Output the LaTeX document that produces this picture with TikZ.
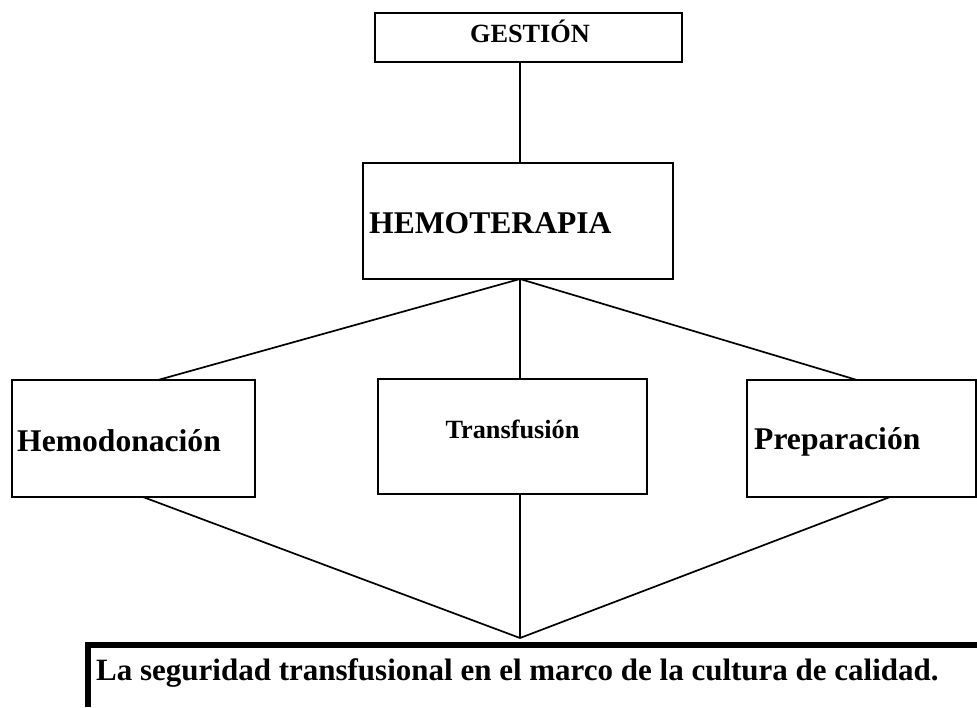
\documentclass[tikz,border=0pt]{standalone}
\usepackage{fontspec}
\setmainfont{Liberation Serif}
\begin{document}
\begin{tikzpicture}[x=1pt,y=-1pt,
  box/.style={draw=black, line width=2pt, rectangle, inner sep=0pt},
  conn/.style={draw=black, line width=1.7pt},
  big/.style={font=\bfseries\fontsize{31.6}{36}\selectfont, inner sep=0pt},
  mid/.style={font=\bfseries\fontsize{26.3}{30}\selectfont, inner sep=0pt}]
\useasboundingbox (0,0) rectangle (977,707);
% boxes
\node[box, minimum width=307pt, minimum height=49pt] (g) at (528.5,37.5) {};
\node[box, minimum width=310pt, minimum height=116pt] (h) at (518,221) {};
\node[box, minimum width=243pt, minimum height=117pt] (hd) at (133.5,438.5) {};
\node[box, minimum width=269pt, minimum height=115pt] (t) at (512.5,436.5) {};
\node[box, minimum width=229pt, minimum height=117pt] (p) at (861.5,438.5) {};
% texts
\node[mid, anchor=base] (gtxt) at (530,42) {GESTIÓN};
\node[big, anchor=base west] (htxt) at (369,233) {HEMOTERAPIA};
\node[big, anchor=base west] (hdtxt) at (17,451) {Hemodonación};
\node[mid, anchor=base] (ttxt) at (512.5,438) {Transfusión};
\node[big, anchor=base west] (ptxt) at (754,449) {Preparación};
\node[font=\bfseries\fontsize{31}{36}\selectfont, inner sep=0pt, anchor=base west] (qtxt) at (96,680) {La seguridad transfusional en el marco de la cultura de calidad.};
% connector points
\coordinate (hub) at (520,279);
\coordinate (apex) at (520,638);
\coordinate (hdTop) at (158,380);
\coordinate (tTop) at (520,379);
\coordinate (pTop) at (857,380);
\coordinate (hdBot) at (143,497);
\coordinate (tBot) at (520,494);
\coordinate (pBot) at (890,497);
\coordinate (gBot) at (520,62);
\coordinate (hTop) at (520,163);
% connectors
\draw[conn] (gBot) -- (hTop);
\draw[conn] (hdTop) -- (hub) -- (pTop);
\draw[conn] (hub) -- (tTop);
\draw[conn] (hdBot) -- (apex) -- (pBot);
\draw[conn] (tBot) -- (apex);
% bottom frame
\coordinate (barL) at (88,645);
\coordinate (barR) at (977,645);
\coordinate (barB) at (88,707);
\draw[line width=6pt, miter limit=10] (barR) -- (barL) -- (barB);
\end{tikzpicture}
\end{document}
